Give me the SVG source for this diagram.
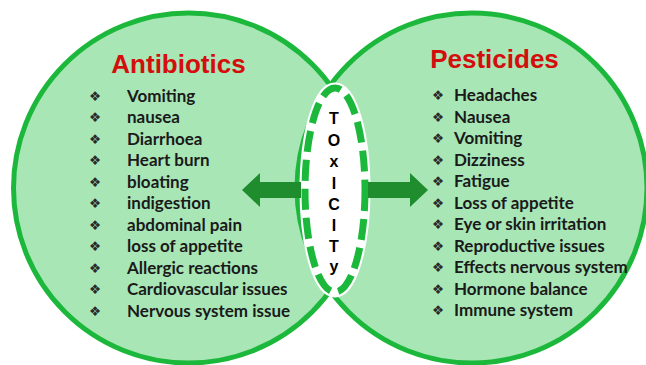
<svg xmlns="http://www.w3.org/2000/svg" width="646" height="365" viewBox="0 0 646 365">
<style>
.fill{fill:#a8e6b6;stroke:none}
.ring{fill:none;stroke:#1cb83c;stroke-width:5}
.title{font-family:"Liberation Sans",Arial,sans-serif;font-weight:bold;font-size:26px;fill:#d40d0d;text-anchor:middle}
.item{font-family:Lato,"Liberation Sans",sans-serif;font-weight:bold;font-size:17px;fill:#1a1a1a}
.bul{font-family:"DejaVu Sans",sans-serif;font-size:13.5px;fill:#2a2a2a;text-anchor:middle}
.tox{font-family:"Liberation Sans",Arial,sans-serif;font-weight:bold;font-size:16px;fill:#000;text-anchor:middle}
.arrow{fill:#1f8c2e}
</style>
<rect width="646" height="365" fill="#ffffff"/>
<g id="circle-antibiotics-fill"><circle class="fill" cx="188.5" cy="188" r="175"/></g>
<g id="circle-pesticides-fill"><circle class="fill" cx="472" cy="188" r="175"/></g>
<g id="rings">
<circle class="ring" cx="188.5" cy="188" r="175"/>
<circle class="ring" cx="472" cy="188" r="175"/>
</g>
<g id="toxicity">
<ellipse cx="335" cy="190" rx="30" ry="102" fill="#ffffff" stroke="#ffffff" stroke-width="11"/>
<ellipse cx="335" cy="190" rx="30" ry="102" fill="none" stroke="#1cb83c" stroke-width="7" stroke-dasharray="21 8"/>
<text class="tox" x="334" y="124">T</text>
<text class="tox" x="334" y="146">O</text>
<text class="tox" x="334" y="167">x</text>
<text class="tox" x="334" y="189">I</text>
<text class="tox" x="334" y="210">C</text>
<text class="tox" x="334" y="231">I</text>
<text class="tox" x="334" y="252">T</text>
<text class="tox" x="334" y="272">y</text>
</g>
<g id="connectors">
<path class="arrow" d="M301,182 H260 V173 L242,190 L260,207 V198 H301 Z"/>
<path class="arrow" d="M368,182 H410 V173 L428,190 L410,207 V198 H368 Z"/>
</g>
<g id="antibiotics">
<text class="title" x="178.5" y="73">Antibiotics</text>
<g class="bul">
<text x="95" y="100.5">❖</text><text x="95" y="122">❖</text><text x="95" y="143.5">❖</text><text x="95" y="165">❖</text><text x="95" y="186.5">❖</text><text x="95" y="208">❖</text><text x="95" y="229.5">❖</text><text x="95" y="251">❖</text><text x="95" y="272.5">❖</text><text x="95" y="294">❖</text><text x="95" y="315.5">❖</text>
</g>
<g class="item">
<text x="127" y="101.5">Vomiting</text>
<text x="127" y="123">nausea</text>
<text x="127" y="144.5">Diarrhoea</text>
<text x="127" y="166">Heart burn</text>
<text x="127" y="187.5">bloating</text>
<text x="127" y="209">indigestion</text>
<text x="127" y="230.5">abdominal pain</text>
<text x="127" y="252">loss of appetite</text>
<text x="127" y="273.5">Allergic  reactions</text>
<text x="127" y="295">Cardiovascular issues</text>
<text x="127" y="316.5">Nervous system issue</text>
</g>
</g>
<g id="pesticides">
<text class="title" x="494.5" y="68">Pesticides</text>
<g class="bul">
<text x="438" y="100">❖</text><text x="438" y="121.5">❖</text><text x="438" y="143">❖</text><text x="438" y="164.5">❖</text><text x="438" y="186">❖</text><text x="438" y="207.5">❖</text><text x="438" y="229">❖</text><text x="438" y="250.5">❖</text><text x="438" y="272">❖</text><text x="438" y="293.5">❖</text><text x="438" y="315">❖</text>
</g>
<g class="item">
<text x="454" y="101">Headaches</text>
<text x="454" y="122.5">Nausea</text>
<text x="454" y="144">Vomiting</text>
<text x="454" y="165.5">Dizziness</text>
<text x="454" y="187">Fatigue</text>
<text x="454" y="208.5">Loss of appetite</text>
<text x="454" y="230">Eye or skin irritation</text>
<text x="454" y="251.5">Reproductive issues</text>
<text x="454" y="273">Effects nervous system</text>
<text x="454" y="294.5">Hormone balance</text>
<text x="454" y="316">Immune system</text>
</g>
</g>
</svg>
